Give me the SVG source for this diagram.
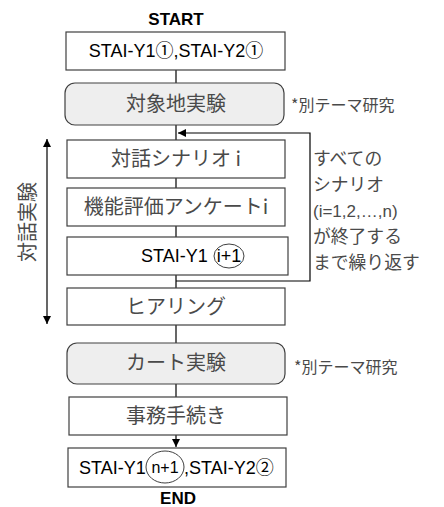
<svg xmlns="http://www.w3.org/2000/svg" width="444" height="507" viewBox="0 0 444 507">
<style>
.box{fill:#fff;stroke:#404040;stroke-width:1.2}
.rbox{fill:#eeeeee;stroke:#404040;stroke-width:1.2}
.ln{fill:none;stroke:#000;stroke-width:1.2}
.jp{font-family:"Noto Sans CJK JP","Liberation Sans",sans-serif;font-size:20px;fill:#4a4a4a;text-anchor:middle}
.lat{font-family:"Liberation Sans","Noto Sans CJK JP",sans-serif;font-size:18px;fill:#000;text-anchor:middle}
.bold{font-family:"Liberation Sans",sans-serif;font-size:17px;font-weight:bold;fill:#000;text-anchor:middle}
.note{font-family:"Noto Sans CJK JP",sans-serif;font-size:16px;fill:#4a4a4a}
.side{font-family:"Noto Sans CJK JP","Liberation Sans",sans-serif;font-size:17.8px;fill:#4a4a4a}
</style>
<defs>
<marker id="ah" viewBox="0 0 10 10" refX="10" refY="5" markerWidth="8" markerHeight="8" markerUnits="userSpaceOnUse" orient="auto">
<path d="M0,0 L10,5 L0,10 z" fill="#000"/>
</marker>
</defs>
<text class="bold" x="176" y="25">START</text>
<g id="connectors">
<line class="ln" x1="176" y1="70" x2="176" y2="83"/>
<line class="ln" x1="176" y1="125" x2="176" y2="140"/>
<line class="ln" x1="176" y1="178" x2="176" y2="188"/>
<line class="ln" x1="176" y1="226" x2="176" y2="237"/>
<line class="ln" x1="176" y1="275" x2="176" y2="288"/>
<polyline class="ln" points="176,281 310,281 310,133 178,133" marker-end="url(#ah)"/>
<line class="ln" x1="176" y1="325" x2="176" y2="343"/>
<line class="ln" x1="176" y1="384" x2="176" y2="397"/>
<line class="ln" x1="176" y1="435" x2="176" y2="447" marker-end="url(#ah)"/>
<line class="ln" x1="47" y1="142" x2="47" y2="139" marker-end="url(#ah)"/>
<line class="ln" x1="47" y1="141" x2="47" y2="324" marker-end="url(#ah)"/>
</g>
<g id="n1">
<rect class="box" x="66" y="32" width="219" height="38"/>
<text class="lat" x="176" y="57">STAI-Y1①,STAI-Y2①</text>
</g>
<g id="n2">
<rect class="rbox" x="65" y="83" width="219" height="42" rx="10"/>
<text class="jp" x="176" y="111">対象地実験</text>
<text class="note" x="291" y="111">*別テーマ研究</text>
</g>
<g id="n3">
<rect class="box" x="67" y="140" width="218" height="38"/>
<text class="jp" x="176" y="166">対話シナリオ i</text>
</g>
<g id="n4">
<rect class="box" x="67" y="188" width="218" height="38"/>
<text class="jp" x="176" y="214">機能評価アンケートi</text>
</g>
<g id="n5">
<rect class="box" x="67" y="237" width="221" height="38"/>
<text class="lat" x="141" y="262" style="text-anchor:start">STAI-Y1</text>
<ellipse cx="229" cy="256" rx="15" ry="12" fill="none" stroke="#404040" stroke-width="1"/>
<text class="lat" x="229" y="262">i+1</text>
</g>
<g id="n6">
<rect class="box" x="67" y="288" width="218" height="37"/>
<text class="jp" x="176" y="314">ヒアリング</text>
</g>
<g id="n7">
<rect class="rbox" x="67" y="343" width="218" height="41" rx="10"/>
<text class="jp" x="176" y="370">カート実験</text>
<text class="note" x="294" y="373">*別テーマ研究</text>
</g>
<g id="n8">
<rect class="box" x="69" y="397" width="218" height="38"/>
<text class="jp" x="176" y="423">事務手続き</text>
</g>
<g id="n9">
<rect class="box" x="68" y="448" width="218" height="39"/>
<text class="lat" x="79" y="474" style="text-anchor:start">STAI-Y1</text>
<ellipse cx="165" cy="467" rx="19" ry="16" fill="none" stroke="#404040" stroke-width="1"/>
<text class="lat" x="165" y="473" style="font-size:16px">n+1</text>
<text class="lat" x="184" y="474" style="text-anchor:start">,STAI-Y2②</text>
</g>
<text class="bold" x="178" y="504">END</text>
<g id="loopnote">
<text class="side" x="313" y="165">すべての</text>
<text class="side" x="313" y="191">シナリオ</text>
<text class="side" x="313" y="217" style="font-family:'Liberation Sans',sans-serif;font-size:17px">(i=1,2,…,n)</text>
<text class="side" x="313" y="243">が終了する</text>
<text class="side" x="313" y="269">まで繰り返す</text>
</g>
<text class="jp" transform="translate(35,222) rotate(-90)" x="0" y="0">対話実験</text>
</svg>
